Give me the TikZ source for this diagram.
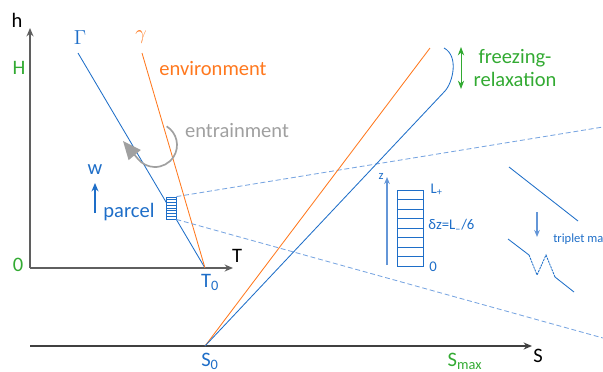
\documentclass[tikz,border=0pt]{standalone}
\usepackage{fontspec}
\setmainfont{Carlito}
\usetikzlibrary{arrows.meta,positioning}
\definecolor{pblue}{RGB}{30,110,200}
\definecolor{lblue}{RGB}{100,150,215}
\definecolor{dblue}{RGB}{120,165,225}
\definecolor{ocol}{RGB}{255,120,30}
\definecolor{gcol}{RGB}{50,170,50}
\definecolor{egray}{RGB}{160,160,160}
\definecolor{axcol}{RGB}{95,95,95}
\newcommand{\lblfont}{\fontsize{14.6}{17.5}\selectfont}
\newcommand{\smlfont}{\fontsize{10.5}{12}\selectfont}
\tikzset{
  axisline/.style={axcol,line width=1.3pt,-{Stealth[length=6pt,width=5pt]}},
  dashline/.style={dblue,semithick,dash pattern=on 3.5pt off 2pt},
  cellbox/.style={draw=pblue,fill=white,semithick,inner sep=0pt}
}

\begin{document}
\begin{tikzpicture}[x=0.025cm, y=-0.025cm,
    every node/.style={font=\lblfont, inner sep=0pt}]
  \useasboundingbox (0,0) rectangle (603,371);

  % temperature diagram
  \coordinate (orig) at (30,268);
  \coordinate (htip) at (30,28);
  \coordinate (ttip) at (233,268);
  \coordinate (tzero) at (205,268);
  \coordinate (gtop) at (78,53);
  \coordinate (etop) at (142,53);
  \draw[axisline] (orig) -- (htip);
  \draw[axisline] (orig) -- (ttip);
  \node (hlab) at (17,20) {h};
  \node[gcol] (Hlab) at (19,68) {H};
  \node[gcol] (olab) at (18,265) {0};
  \node (tlab) at (237,256) {T};
  \node[pblue] (t0lab) at (210,282) {T\textsubscript{0}};
  \node[pblue] (gamlab) at (80,38) {$\Gamma$};
  \node[ocol] (gamenv) at (141,37) {$\gamma$};
  \draw[pblue,semithick] (gtop) -- (tzero);
  \draw[ocol,semithick] (etop) -- (tzero);
  \node[ocol] (envlab) at (213,69) {environment};

  % entrainment
  \coordinate (entc) at (155,145);
  \coordinate (enttip) at (123,141);
  \draw[egray,line width=1.2pt,-{Triangle[length=13pt,width=11pt]}]
    (entc) ++(-58:22) arc[start angle=-58,end angle=140,radius=22] -- (enttip);
  \node[egray] (entlab) at (237,131) {entrainment};

  % parcel
  \node[cellbox,minimum width=0.25cm,minimum height=0.55cm] (parcel) at (171,208) {};
  \foreach \k in {1,...,7}
    \draw[pblue,thin] (166,197+\k*2.75) -- (176,197+\k*2.75);
  \coordinate (wbot) at (95,213);
  \coordinate (wtip) at (95,183);
  \draw[pblue,thick,-{Stealth[length=6pt,width=5pt]}] (wbot) -- (wtip);
  \node[pblue] (wlab) at (95,170) {w};
  \node[pblue] (parcellab) at (129,212) {parcel};

  % zoom to the column
  \coordinate (dashA) at (603,127);
  \coordinate (dashB) at (603,338);
  \draw[dashline] (parcel.north east) -- (dashA);
  \draw[dashline] (parcel.south east) -- (dashB);

  % salinity diagram
  \coordinate (sorig) at (30,346);
  \coordinate (stip) at (532,346);
  \coordinate (szero) at (205,346);
  \coordinate (otop) at (430,48);
  \coordinate (bbend) at (445,91);
  \coordinate (btop) at (444,48);
  \draw[axisline,black!75] (sorig) -- (stip);
  \node (slab) at (538,356) {S};
  \node[pblue] (s0lab) at (210,361) {S\textsubscript{0}};
  \node[gcol] (smaxlab) at (465,361) {S\textsubscript{max}};
  \draw[ocol,semithick] (szero) -- (otop);
  \draw[pblue,semithick] (szero) -- (bbend) .. controls (453,82) and (459,56) .. (btop);

  % freezing
  \coordinate (frtop) at (461,47);
  \coordinate (frbot) at (461,89);
  \draw[gcol,semithick,{Stealth[length=6pt,width=4.5pt]}-{Stealth[length=6pt,width=4.5pt]}]
    (frtop) -- (frbot);
  \node[gcol,align=center,font=\fontsize{14.6}{17}\selectfont] (frlab) at (515,68)
    {freezing-\\relaxation};

  % column
  \coordinate (zbot) at (387,265);
  \coordinate (ztop) at (387,177);
  \draw[lblue,thick,-{Stealth[length=5pt,width=4pt]}] (zbot) -- (ztop);
  \node[pblue,font=\fontsize{9}{10}\selectfont] (zlab) at (381,176) {z};
  \node[cellbox,minimum width=0.65cm,minimum height=1.9cm] (stack) at (410,228) {};
  \foreach \k in {1,...,7}
    \draw[pblue,semithick] (397,190+\k*9.5) -- (423,190+\k*9.5);
  \node[pblue,font=\smlfont,right=5pt of stack.north east] (lplus) {L\textsubscript{+}};
  \node[pblue,font=\smlfont,anchor=west] (dzlab) at (428,226) {δz=L\textsubscript{--}/6};
  \node[pblue,font=\smlfont,right=4pt of stack.south east] (zerolab) {0};

  % triplet map
  \coordinate (tmA) at (509,167);
  \coordinate (tmB) at (578,221);
  \draw[pblue,semithick] (tmA) -- (tmB);
  \coordinate (tmarrA) at (537,212);
  \coordinate (tmarrB) at (537,237);
  \draw[lblue,thick,-{Stealth[length=5pt,width=4pt]}] (tmarrA) -- (tmarrB);
  \coordinate (zzA) at (508,239);
  \coordinate (zzB) at (529,255);
  \coordinate (zzC) at (537,275);
  \coordinate (zzD) at (546,255);
  \coordinate (zzE) at (555,277);
  \coordinate (zzF) at (574,292);
  \draw[pblue,semithick] (zzA) -- (zzB);
  \draw[pblue,semithick,dash pattern=on 1.6pt off 0.6pt] (zzB) -- (zzC) -- (zzD) -- (zzE);
  \draw[pblue,semithick] (zzE) -- (zzF);
  \node[pblue,font=\fontsize{8.9}{10}\selectfont,anchor=west] (tmlab) at (553,239) {triplet map};
\end{tikzpicture}
\end{document}
